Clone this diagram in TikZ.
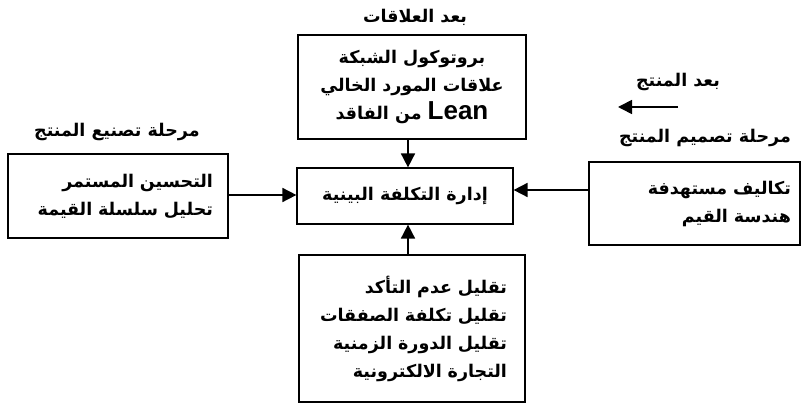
\documentclass[tikz,border=0pt]{standalone}
\usepackage{fontspec}
\newfontfamily\arabicfont[Script=Arabic]{DejaVu Sans}
\newfontfamily\latinfont{Liberation Sans}
\TeXXeTstate=1
\usetikzlibrary{arrows.meta}

\tikzstyle{every node}=[font={\arabicfont\bfseries\fontsize{17.5}{28}\selectfont}, inner sep=2pt]
\tikzstyle{box}=[draw=black, line width=1.2pt, align=right, minimum height=56pt]
\tikzstyle{caption}=[align=center]
\tikzstyle{arr}=[line width=1.7pt, -{Triangle[length=14pt,width=14pt]}]

\begin{document}
\begin{tikzpicture}[x=1pt,y=1pt]
    \useasboundingbox (0,0) rectangle (803,409);
    % centre box
    \node [box, align=center, minimum width=216pt] (mid) at (405,213) {\beginR إدارة التكلفة البينية\endR};
    % four input boxes
    \node [box, align=center, minimum width=228pt, minimum height=104pt] (rel) at (412,322)
        {\beginR بروتوكول الشبكة\endR\\ \beginR علاقات المورد الخالي\endR\\ \beginR\beginL{\latinfont\bfseries\fontsize{26}{28}\selectfont Lean}\endL{} من الفاقد\endR};
    \node [box, inner xsep=15pt, text width=190pt, minimum height=84pt] (make) at (118,213)
        {\beginR التحسين المستمر\endR\\ \beginR تحليل سلسلة القيمة\endR};
    \node [box, inner xsep=9pt, text width=193pt, minimum height=83pt] (design) at (694.5,205.5)
        {\beginR تكاليف مستهدفة\endR\\ \beginR هندسة القيم\endR};
    \node [box, inner xsep=18pt, text width=190pt, minimum height=147pt] (trans) at (412,80.5)
        {\beginR تقليل عدم التأكد\endR\\ \beginR تقليل تكلفة الصفقات\endR\\ \beginR تقليل الدورة الزمنية\endR\\ \beginR التجارة الالكترونية\endR};
    % captions
    \node [caption] (relcap) at (415,392) {\beginR بعد العلاقات\endR};
    \node [caption] (makecap) at (117,277) {\beginR مرحلة تصنيع المنتج\endR};
    \node [caption] (prodcap) at (678,327) {\beginR بعد المنتج\endR};
    \node [caption] (designcap) at (705,271) {\beginR مرحلة تصميم المنتج\endR};
    \coordinate (prodA) at (678,302);
    \coordinate (prodB) at (618,302);
    % connectors
    \draw [arr] ([xshift=3pt]mid.north |- rel.south) -- ([xshift=3pt]mid.north);
    \draw [arr] ([xshift=3pt]mid.south |- trans.north) -- ([xshift=3pt]mid.south);
    \draw [arr] ([yshift=1pt]make.east |- mid.west) -- ([yshift=1pt]mid.west);
    \draw [arr] ([yshift=6pt]design.west |- mid.east) -- ([yshift=6pt]mid.east);
    \draw [arr] (prodA) -- (prodB);
\end{tikzpicture}
\end{document}
